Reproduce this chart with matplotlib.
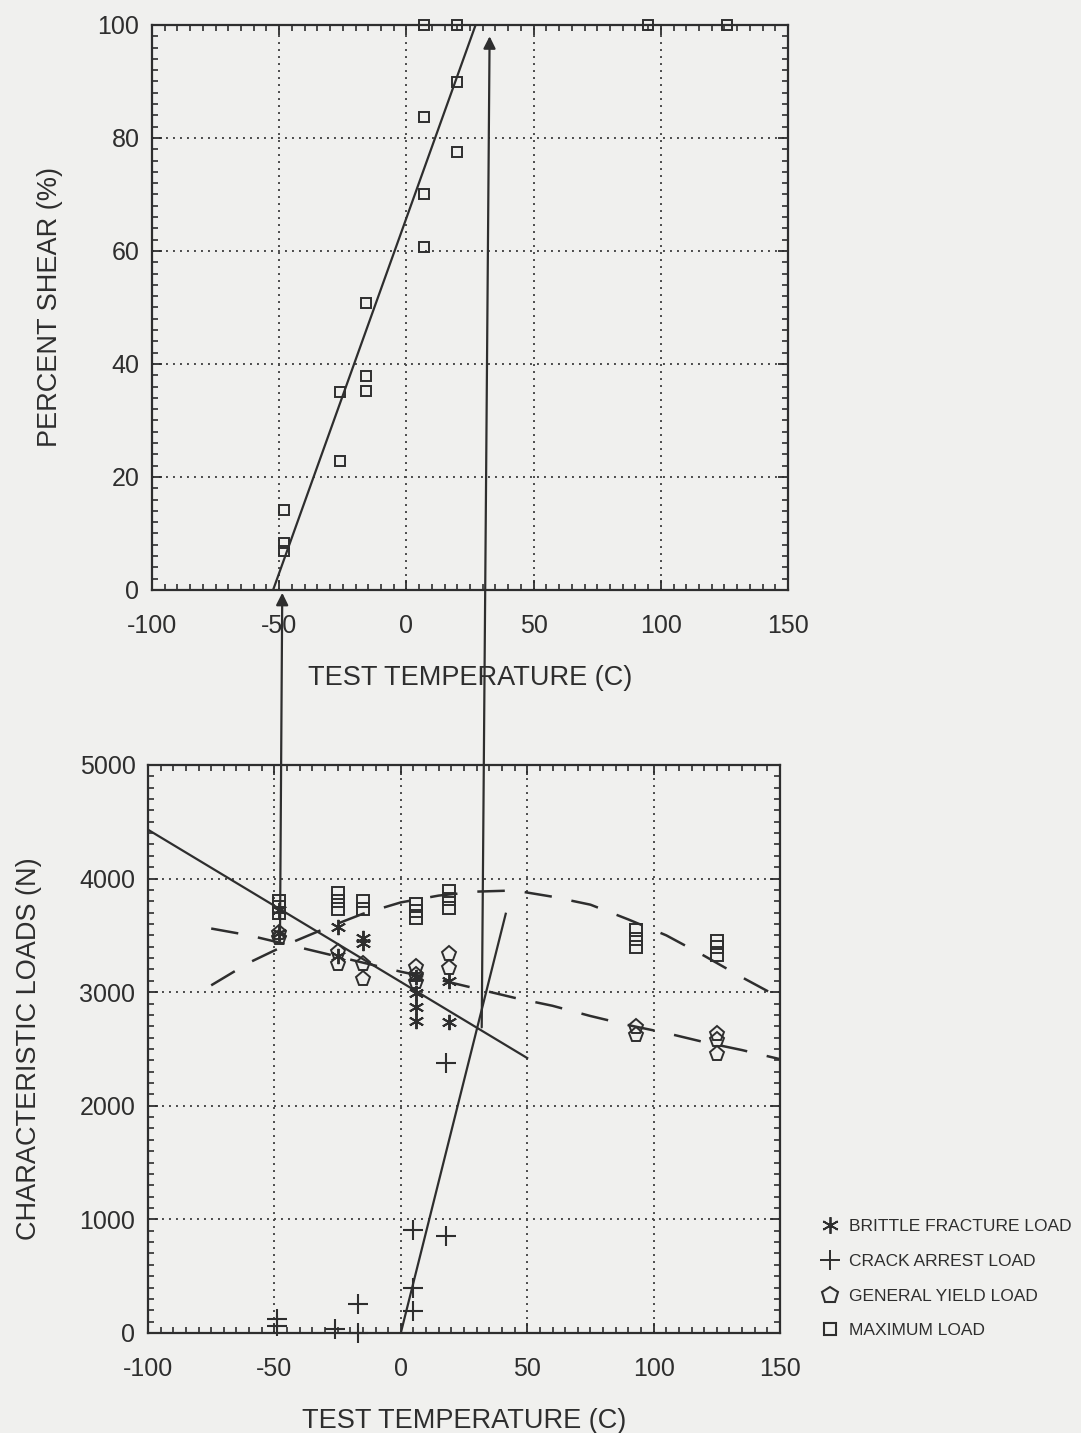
import numpy as np
import matplotlib.pyplot as plt
from matplotlib.patches import ConnectionPatch
from matplotlib.lines import Line2D
from matplotlib.ticker import MultipleLocator

plt.rcParams['font.family'] = ['Liberation Sans', 'DejaVu Sans']
plt.rcParams['axes.unicode_minus'] = False

# ---- top panel: percent shear ----
shear_t = [-48, -48, -48, -26, -26, -16, -16, -16, 7, 7, 7, 20, 20, 7, 20, 95, 126]
shear_pct = [14.2, 8.3, 6.9, 22.8, 35.0, 37.9, 35.2, 50.8, 60.7, 70.1, 83.7, 77.5, 89.9, 100, 100, 100, 100]
shear_fit_t = [-52.4, 27.2]
shear_fit_pct = [0, 100]

# ---- bottom panel: characteristic loads ----
brittle_t = [-48, -48, -25, -25, -15, -15, 6, 6, 6, 6, 19, 19]
brittle_n = [3720, 3520, 3570, 3320, 3480, 3430, 3130, 2990, 2870, 2750, 3100, 2740]
arrest_t = [-49, -49, -26, -17, -17, 5, 5, 5, 18, 18]
arrest_n = [120, 60, 35, 255, 0, 910, 400, 195, 2380, 850]
yield_t = [-48, -48, -25, -25, -15, -15, 6, 6, 6, 19, 19, 93, 93, 125, 125, 125]
yield_n = [3520, 3480, 3350, 3250, 3250, 3120, 3220, 3150, 3090, 3340, 3210, 2690, 2620, 2630, 2580, 2460]
max_t = [-48, -48, -48, -25, -25, -25, -15, -15, 6, 6, 6, 19, 19, 19, 93, 93, 93, 125, 125, 125]
max_n = [3800, 3750, 3700, 3870, 3800, 3730, 3800, 3730, 3780, 3710, 3650, 3890, 3820, 3740, 3550, 3470, 3400, 3450, 3400, 3330]

brittle_fit_t = [-100, 50]
brittle_fit_n = [4430, 2420]
arrest_fit_t = [0, 41.5]
arrest_fit_n = [0, 3690]

curve_t = [-75, -60, -45, -30, -15, 0, 15, 30, 45, 60, 75, 90, 105, 120, 135, 150]
max_curve = [3060, 3260, 3420, 3560, 3690, 3790, 3850, 3885, 3895, 3840, 3770, 3640, 3500, 3320, 3130, 2950]
yield_curve = [3560, 3500, 3420, 3340, 3260, 3180, 3110, 3030, 2950, 2880, 2790, 2710, 2640, 2560, 2490, 2410]

# transition lines carried from the load panel up to the shear panel
# (start temp, start load, end temp, end shear)
arrows = [(-47.8, 3450, -48.8, -0.5),
          (32.0, 2690, 32.7, 98)]

ink = '#2e2e2e'
paper = '#f0f0ee'

fig = plt.figure(figsize=(10.81, 14.33), dpi=100, facecolor=paper)
ax1 = fig.add_axes([0.1406, 0.5883, 0.5884, 0.3943])
ax2 = fig.add_axes([0.1369, 0.0698, 0.5847, 0.3964])


def style(ax):
    ax.set_facecolor(paper)
    ax.grid(True, which='major', color='#4a4a4a', linestyle=(0, (1, 2.6)), linewidth=1.4)
    ax.tick_params(which='both', direction='in', top=True, right=True, colors=ink,
                   labelsize=18)
    ax.tick_params(axis='x', pad=17)
    ax.tick_params(axis='y', pad=9)
    ax.tick_params(which='major', length=7, width=1.3)
    ax.tick_params(which='minor', length=4, width=1.2)
    for s in ax.spines.values():
        s.set_color(ink)
        s.set_linewidth(1.6)
    ax.xaxis.set_major_locator(MultipleLocator(50))
    ax.xaxis.set_minor_locator(MultipleLocator(5))
    ax.set_xlim(-100, 150)


style(ax1)
ax1.set_ylim(0, 100)
ax1.yaxis.set_major_locator(MultipleLocator(20))
ax1.yaxis.set_minor_locator(MultipleLocator(2))
ax1.plot(shear_fit_t, shear_fit_pct, color=ink, lw=1.6)
ax1.plot(shear_t, shear_pct, 's', ms=7, mfc='none', mec=ink, mew=1.4, clip_on=False)
ax1.set_xlabel('TEST TEMPERATURE (C)', fontsize=19.5, color=ink, labelpad=20)
ax1.set_ylabel('PERCENT SHEAR (%)', fontsize=19.5, color=ink, labelpad=25)

style(ax2)
ax2.set_ylim(0, 5000)
ax2.yaxis.set_major_locator(MultipleLocator(1000))
ax2.yaxis.set_minor_locator(MultipleLocator(100))
ax2.plot(brittle_fit_t, brittle_fit_n, color=ink, lw=1.6)
ax2.plot(arrest_fit_t, arrest_fit_n, color=ink, lw=1.6)
ax2.plot(curve_t, max_curve, color=ink, lw=1.8, dashes=(11, 8))
ax2.plot(curve_t, yield_curve, color=ink, lw=1.8, dashes=(11, 8))
ax2.plot(brittle_t, brittle_n, marker=(6, 2, 0), ls='none', ms=11, mec=ink, mew=1.4)
ax2.plot(arrest_t, arrest_n, '+', ms=14, mec=ink, mew=1.5, clip_on=False)
ax2.plot(yield_t, yield_n, 'p', ms=11, mfc='none', mec=ink, mew=1.4)
ax2.plot(max_t, max_n, 's', ms=8, mfc='none', mec=ink, mew=1.4)
ax2.set_xlabel('TEST TEMPERATURE (C)', fontsize=19.5, color=ink, labelpad=20)
ax2.set_ylabel('CHARACTERISTIC LOADS (N)', fontsize=19.5, color=ink, labelpad=27)

for ta, na, tb, pb in arrows:
    con = ConnectionPatch(xyA=(ta, na), coordsA=ax2.transData,
                          xyB=(tb, pb), coordsB=ax1.transData,
                          arrowstyle='-|>', mutation_scale=18, color=ink, lw=1.6)
    con.set_zorder(5)
    fig.add_artist(con)

handles = [
    Line2D([], [], marker=(6, 2, 0), ls='none', ms=12, mec=ink, mew=1.3),
    Line2D([], [], marker='+', ls='none', ms=15, mec=ink, mew=1.4),
    Line2D([], [], marker='p', ls='none', ms=12, mfc='none', mec=ink, mew=1.5),
    Line2D([], [], marker='s', ls='none', ms=9, mfc='none', mec=ink, mew=1.5),
]
labels = ['BRITTLE FRACTURE LOAD', 'CRACK ARREST LOAD', 'GENERAL YIELD LOAD', 'MAXIMUM LOAD']
fig.legend(handles, labels, loc='upper left', bbox_to_anchor=(0.744, 0.160),
           frameon=False, fontsize=12.5, labelspacing=1.12, handletextpad=0.45,
           handlelength=1.2, labelcolor=ink)

fig.savefig('out.png', dpi=100, facecolor=paper)
